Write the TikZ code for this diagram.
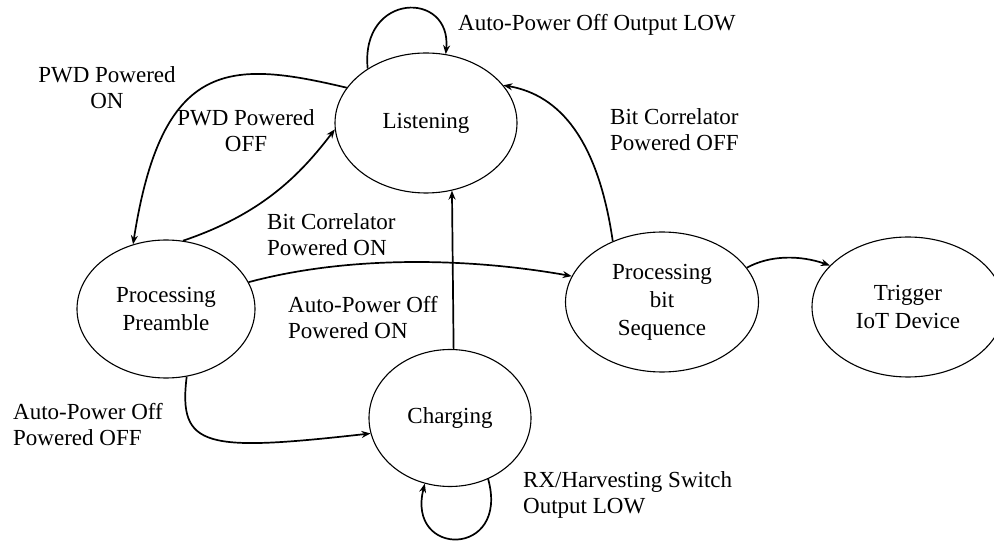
\documentclass[tikz,border=0pt]{standalone}
\usepackage{fontspec}
\setmainfont{Liberation Serif}
\usetikzlibrary{arrows.meta,shapes.geometric}
\newcommand\statefont{\fontsize{23}{28}\selectfont}
\newcommand\labelfont{\fontsize{23}{26}\selectfont}
\begin{document}
\begin{tikzpicture}[x=1pt,y=-1pt,
  state/.style={draw, ellipse, line width=1.1pt, inner sep=0pt, align=center, font=\statefont},
  conn/.style={line width=1.7pt, -{Stealth[length=9pt,width=7pt]}},
  lbl/.style={inner sep=0pt, align=left, anchor=west, font=\labelfont},
  clbl/.style={inner sep=0pt, align=center, font=\labelfont}]
\useasboundingbox (0,0) rectangle (994,545);

% states
\node[state, minimum width=182pt, minimum height=140pt] (L) at (426,123) {Listening};
\node[state, minimum width=178pt, minimum height=138pt] (P) at (166,309) {Processing\\Preamble};
\node[state, minimum width=193pt, minimum height=140pt] (S) at (662,302) {Processing\\bit\\Sequence};
\node[state, minimum width=192pt, minimum height=140pt] (T) at (908,307) {Trigger\\IoT Device};
\node[state, minimum width=162pt, minimum height=137pt] (C) at (450,418) {Charging};

% transitions
\draw[conn] (L.137) .. controls (360,-8) and (452,-10) .. (L.74);
\draw[conn] (C.-58) .. controls (510,558) and (406,558) .. (C.-111);
\draw[conn] (L.156) .. controls (230,60) and (162,58) .. (P.117);
\draw[conn] (P.76) .. controls (262,214) and (300,175) .. (L.184);
\draw[conn] (P.18) .. controls (350,255) and (470,258) .. (S.164);
\draw[conn] (C.87) -- (L.-69);
\draw[conn] (P.-73) .. controls (178,448) and (205,452) .. (C.191);
\draw[conn] (S.129) .. controls (598,140) and (560,95) .. (L.26);
\draw[conn] (S.22) .. controls (770,255) and (800,255) .. (T.152);

% transition labels
\node[lbl] (tLoopL) at (458,25) {Auto-Power Off Output LOW};
\node[clbl] (tPwdOn) at (107,88) {PWD Powered\\ON};
\node[clbl] (tPwdOff) at (246,131) {PWD Powered\\OFF};
\node[lbl] (tBcOff) at (610,130) {Bit Correlator\\Powered OFF};
\node[lbl] (tBcOn) at (267,235) {Bit Correlator\\Powered ON};
\node[lbl] (tApOn) at (288,318) {Auto-Power Off\\Powered ON};
\node[lbl] (tApOff) at (13,425) {Auto-Power Off\\Powered OFF};
\node[lbl] (tRx) at (523,495) {RX/Harvesting Switch\\Output LOW};
\end{tikzpicture}
\end{document}
